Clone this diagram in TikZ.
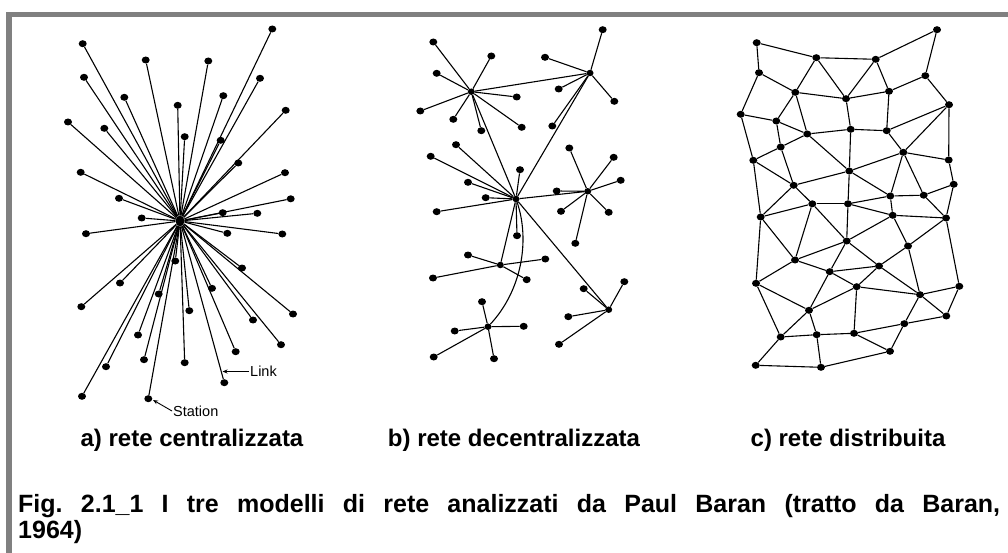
\documentclass[tikz,border=0pt]{standalone}
\usepackage{fontspec}
\setmainfont{Liberation Sans}
\usetikzlibrary{arrows.meta,shapes.geometric}

\begin{document}
\begin{tikzpicture}[
  x=1pt,y=-1pt,
  station/.style={draw=none, fill=black, ellipse, minimum width=8pt, minimum height=7pt, inner sep=0pt},
  hub/.style={station, minimum width=7pt, minimum height=6.5pt},
  link/.style={line width=1.1pt, black},
  frame/.style={fill=black!50, draw=none},
  panel/.style={font=\bfseries\fontsize{24}{28}\selectfont, inner sep=0pt},
  tag/.style={font=\fontsize{14.5}{16}\selectfont, inner sep=1pt},
  tagarr/.style={-{Stealth[length=5pt,width=4pt]}, line width=0.9pt}
]
\useasboundingbox (0,0) rectangle (1008,553);
\fill[frame] (6,12) rectangle (1008,17.5);
\fill[frame] (6,12) rectangle (12,553);

\node[hub, minimum width=9pt, minimum height=11pt] (hubA) at (180,221) {};
\foreach \x/\y [count=\i] in {82.7/43.7, 272.3/29, 145.7/60, 208.3/61, 84/77.3, 260/78.3, 124.3/97.3, 223.3/95.7,
  177.7/105.3, 285.7/110.3, 68/122, 104.3/128.3, 184.7/136.7, 220.7/140.3, 238.3/163, 80.7/172.3, 285/172.7,
  119/198.3, 290.7/198.8, 141.7/218, 222.7/212.7, 257.3/213.3, 86/233.7, 227.3/233.3, 282.3/234, 175.3/261,
  242/268, 120/283, 212/288.3, 158.7/294, 81.3/306.7, 189.3/310.7, 293/314, 253/320, 138/335, 281/344.7,
  235.7/351.7, 106/366.7, 144/359.7, 184.7/362.7, 224.3/382.7, 82/396.3, 148.3/398.7}{
  \node[station] (a\i) at (\x,\y) {};
  \draw[link] (hubA) -- (a\i);
}
\node[tag, anchor=west] (linktag) at (249,371.5) {Link};
\coordinate (linkpt) at (222.5,371.5);
\draw[tagarr] (linktag.west) -- (linkpt);
\node[tag, anchor=west] (stattag) at (172,411) {Station};
\coordinate (statpt) at (153,400);
\draw[tagarr] (stattag.west) -- (statpt);

\node[hub] (b1) at (471.3,91.7) {};
\node[hub] (b2) at (590,73) {};
\node[hub] (b3) at (516,199) {};
\node[hub] (b4) at (587.7,191.3) {};
\node[hub] (b5) at (500.3,265) {};
\node[hub] (b6) at (608.7,309.7) {};
\node[hub] (b7) at (488,326.7) {};
\draw[link] (b1) -- (b2);
\draw[link] (b1) -- (b3);
\draw[link] (b2) -- (b3);
\draw[link] (b3) -- (b4);
\draw[link] (b3) -- (b5);
\draw[link] (b3) -- (b6);
\draw[link] (b3) .. controls (530,240) and (522,290) .. (b7);
\foreach \x/\y [count=\i] in {433.3/42, 491.3/56, 436.7/73.3, 420.3/111, 453.3/119.3, 481.3/130.7, 516.7/97, 521.7/127.3}{
  \node[station] (b1s\i) at (\x,\y) {};
  \draw[link] (b1) -- (b1s\i);
}
\foreach \x/\y [count=\i] in {602.7/29.7, 545/57.3, 558.7/89, 614.3/101.3, 552.3/126}{
  \node[station] (b2s\i) at (\x,\y) {};
  \draw[link] (b2) -- (b2s\i);
}
\foreach \x/\y [count=\i] in {456/144.7, 430.7/156.3, 520/169.7, 468/182.3, 485.7/197.7, 436.7/211.7, 517/235.7}{
  \node[station] (b3s\i) at (\x,\y) {};
  \draw[link] (b3) -- (b3s\i);
}
\foreach \x/\y [count=\i] in {569.3/148, 613.7/157.3, 620.7/180.3, 556.7/191, 561/211.3, 608.7/212.3, 575.3/243.3}{
  \node[station] (b4s\i) at (\x,\y) {};
  \draw[link] (b4) -- (b4s\i);
}
\foreach \x/\y [count=\i] in {468/255, 545.3/259, 433/278, 526.7/279.7}{
  \node[station] (b5s\i) at (\x,\y) {};
  \draw[link] (b5) -- (b5s\i);
}
\foreach \x/\y [count=\i] in {624.3/281.7, 583.7/288.7, 568.3/316.7, 559/344.3}{
  \node[station] (b6s\i) at (\x,\y) {};
  \draw[link] (b6) -- (b6s\i);
}
\foreach \x/\y [count=\i] in {482/301.7, 454.7/331, 523.7/326.3, 433.7/357, 494/358.7}{
  \node[station] (b7s\i) at (\x,\y) {};
  \draw[link] (b7) -- (b7s\i);
}

\foreach \n/\x/\y in {1/756.7/42.7, 2/937/29.7, 3/816.3/57.7, 4/875.7/59.3, 5/759/72.7, 6/925.3/75.7,
  7/795.3/92.3, 8/889/91.3, 9/846/98.7, 10/949/104.7, 11/740.7/114.3, 12/776.3/121, 13/807.3/134,
  14/850.7/129.3, 15/886.7/130.7, 16/780.7/147, 17/903.3/152.3, 18/753.3/160.3, 19/948.7/160,
  20/849.3/171, 21/793.7/185.3, 22/953.7/184.3, 23/890.3/196, 24/923.7/195.2, 25/812.3/203.8,
  26/848/203.8, 27/892.7/215.3, 28/760.7/217, 29/946/218, 30/846.7/241, 31/908/246, 32/795/260,
  33/879/266, 34/829.7/271.7, 35/756/283.3, 36/856.7/286.7, 37/959.3/286.3, 38/920/294.7,
  39/809/310.3, 40/946.3/316, 41/904.3/323.7, 42/780.7/337, 43/816.7/334.7, 44/854/333.3,
  45/890/351.3, 46/755.7/365.3, 47/821/367.3}{
  \node[station] (c\n) at (\x,\y) {};
}
\foreach \s/\t in {1/3, 3/4, 4/2, 2/6, 1/5, 5/7, 3/7, 3/9, 4/9, 4/8, 8/6, 7/9, 9/8, 6/10, 5/11, 7/12,
  7/13, 11/12, 12/13, 9/14, 13/14, 14/15, 8/15, 15/10, 12/16, 13/16, 15/17, 10/17, 10/19, 11/18,
  16/18, 13/20, 14/20, 21/20, 20/17, 17/19, 17/23, 17/24, 19/22, 20/23, 20/26, 18/21, 16/21, 18/28,
  21/28, 21/25, 23/24, 24/22, 25/26, 26/23, 23/27, 24/29, 22/29, 28/25, 28/32, 25/32, 25/30, 26/30,
  26/27, 27/29, 27/30, 27/31, 29/31, 29/37, 30/32, 30/34, 30/33, 31/33, 31/38, 32/34, 32/35, 34/33,
  34/36, 34/39, 33/36, 33/38, 28/35, 35/39, 35/42, 36/39, 36/38, 36/44, 38/37, 38/40, 37/40, 38/41,
  40/41, 41/44, 41/45, 39/42, 39/43, 42/43, 43/44, 44/45, 42/46, 43/47, 46/47, 47/45}{
  \draw[link] (c\s) -- (c\t);
}

\node[panel] (labA) at (192,440) {a) rete centralizzata};
\node[panel] (labB) at (514,440) {b) rete decentralizzata};
\node[panel] (labC) at (848,440) {c) rete distribuita};
\node[panel, font=\bfseries\fontsize{25}{28}\selectfont, anchor=base west] (cap1) at (18,512) {\makebox[982pt][s]{Fig.\ 2.1\_1 I tre modelli di rete analizzati da Paul Baran (tratto da Baran,}};
\node[panel, font=\bfseries\fontsize{25}{28}\selectfont, anchor=base west] (cap2) at (18,538) {1964)};
\end{tikzpicture}
\end{document}
